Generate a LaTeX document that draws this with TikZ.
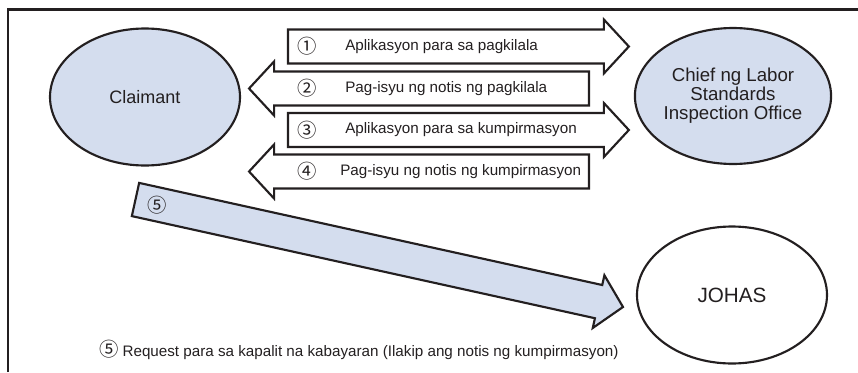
\documentclass[tikz,border=0pt]{standalone}
\usepackage{fontspec}
\setmainfont{Liberation Sans}
\newfontfamily\circfont{Noto Sans CJK JP}
\usepackage{tikz}
\usetikzlibrary{shapes.geometric, calc, positioning}
\definecolor{ovalblue}{RGB}{212,221,238}
\definecolor{inkgray}{RGB}{35,31,32}
\tikzstyle{party} = [ellipse, draw=inkgray, line width=1.6pt, text=inkgray, align=center, inner sep=0pt]
\tikzstyle{blockarrow} = [draw=inkgray, line width=1.6pt, fill=white, line join=miter]
\tikzstyle{num} = [font=\circfont\fontsize{14.5}{15}\selectfont, text=inkgray, inner sep=0pt]
\tikzstyle{msg} = [font=\fontsize{11.4}{12}\selectfont, text=inkgray, inner sep=0pt, anchor=west]
\newcommand{\blockarrow}[3]{%
  \coordinate (HeadBase) at ($(#3)!18.75pt!(#2)$);
  \draw [#1] ($(#2)!12.75pt!90:(#3)$) -- ($(HeadBase)!12.75pt!90:(#3)$) -- ($(HeadBase)!20.25pt!90:(#3)$) -- (#3)
    -- ($(HeadBase)!20.25pt!-90:(#3)$) -- ($(HeadBase)!12.75pt!-90:(#3)$) -- ($(#2)!12.75pt!-90:(#3)$) -- cycle;
}

\begin{document}
\begin{tikzpicture}[x=0.75pt, y=-0.75pt]
		\useasboundingbox (0,0) rectangle (858,372);
		\draw [inkgray, line width=2pt] (8,372) |- (858,9.5);
		\node (Claimant) [party, fill=ovalblue, minimum width=142.5pt, minimum height=102.75pt, font=\fontsize{13.5}{16}\selectfont] at (145,97) {Claimant};
		\node (Chief) [party, fill=ovalblue, minimum width=144pt, minimum height=102pt, font=\fontsize{14}{14.25}\selectfont] at (733,96) {Chief ng Labor\\Standards\\Inspection Office};
		\node (Johas) [party, fill=white, minimum width=142.5pt, minimum height=102.75pt, font=\fontsize{15.5}{16}\selectfont] at (732,295) {JOHAS};
		\coordinate (Tail1) at (288,46.5);
		\coordinate (Tip1) at ($(Chief.west)+(-5,-49.5)$);
		\coordinate (Tail2) at (589,88.5);
		\coordinate (Tip2) at ($(Claimant.east)+(8,-8.5)$);
		\coordinate (Tail3) at (288,130);
		\coordinate (Tip3) at ($(Chief.west)+(-5,34)$);
		\coordinate (Tail4) at (589,171.5);
		\coordinate (Tip4) at ($(Claimant.east)+(8,74.5)$);
		\coordinate (Tail5) at (135.5,199.5);
		\coordinate (Tip5) at (623,307);
		\blockarrow{blockarrow}{Tail1}{Tip1}
		\blockarrow{blockarrow}{Tail2}{Tip2}
		\blockarrow{blockarrow}{Tail3}{Tip3}
		\blockarrow{blockarrow}{Tail4}{Tip4}
		\blockarrow{blockarrow, fill=ovalblue}{Tail5}{Tip5}
		\node (Num1) [num] at (307,46.5) {①};
		\node (Msg1) [msg] at (345,46.5) {Aplikasyon para sa pagkilala};
		\node (Num2) [num] at (307,88.5) {②};
		\node (Msg2) [msg] at (345,88.5) {Pag-isyu ng notis ng pagkilala};
		\node (Num3) [num] at (307,130) {③};
		\node (Msg3) [msg] at (345,130) {Aplikasyon para sa kumpirmasyon};
		\node (Num4) [num] at (307,171.5) {④};
		\node (Msg4) [msg] at (340,171.5) {Pag-isyu ng notis ng kumpirmasyon};
		\node (Num5) [num] at (157,205) {⑤};
		\node (Note) [msg] at (99,350) {{\circfont\fontsize{14.5}{15}\selectfont ⑤}\hspace{3pt}Request para sa kapalit na kabayaran (Ilakip ang notis ng kumpirmasyon)};
\end{tikzpicture}
\end{document}
